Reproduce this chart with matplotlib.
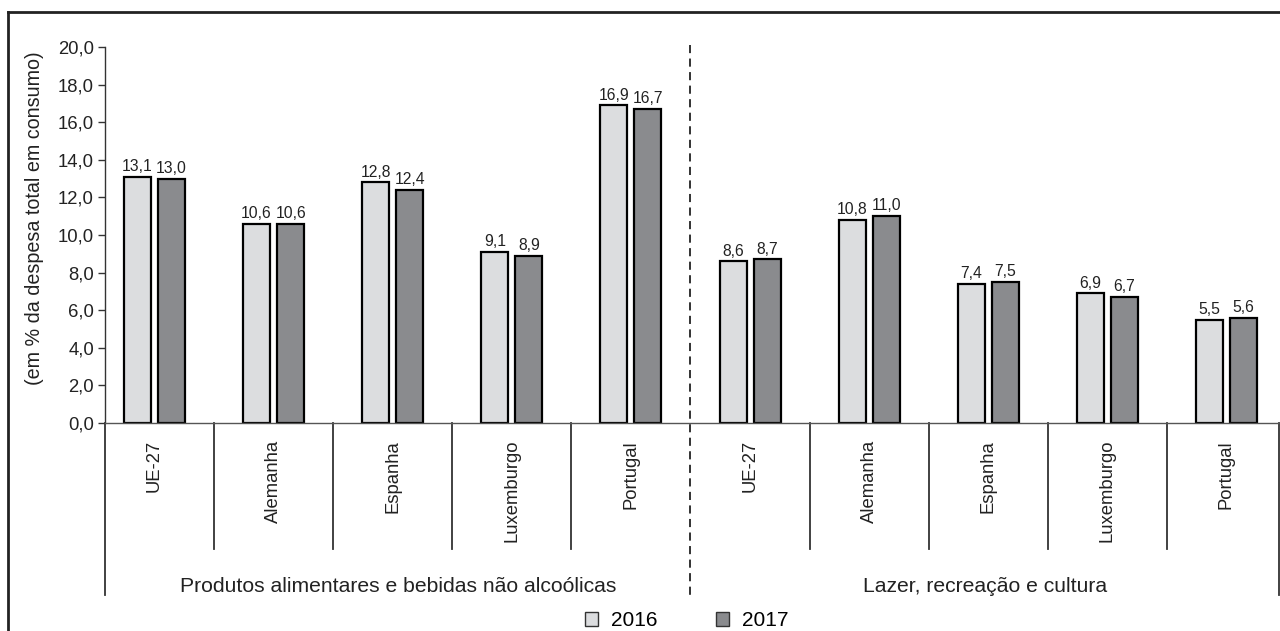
import matplotlib
matplotlib.use("Agg")
import matplotlib.pyplot as plt
from matplotlib.lines import Line2D
from matplotlib.patches import Patch
import numpy as np

plt.rcParams['font.family'] = ['Liberation Sans', 'DejaVu Sans']

groups = ["Produtos alimentares e bebidas não alcoólicas", "Lazer, recreação e cultura"]
countries = ["UE-27", "Alemanha", "Espanha", "Luxemburgo", "Portugal"]
values_2016 = [13.1, 10.6, 12.8, 9.1, 16.9, 8.6, 10.8, 7.4, 6.9, 5.5]
values_2017 = [13.0, 10.6, 12.4, 8.9, 16.7, 8.7, 11.0, 7.5, 6.7, 5.6]
series_names = ["2016", "2017"]
yticks = np.arange(0, 20.1, 2)

c2016 = "#dcdddf"
c2017 = "#8a8b8e"
ink = "#222222"

W, H = 1280, 631
fig = plt.figure(figsize=(W / 100, H / 100), dpi=100)
ax_l, ax_r, ax_b, ax_t = 105, 1279, 423, 47
ax = fig.add_axes([ax_l / W, 1 - ax_b / H, (ax_r - ax_l) / W, (ax_b - ax_t) / H])

n = len(values_2016)
x = np.arange(n)
cat_px = 119.1                      # width of one category slot in pixels
x0 = -0.5 + 10 / cat_px             # first slot starts slightly left of the value axis
x1 = x0 + (ax_r - ax_l) / cat_px

bw = 0.227
off = 0.143
b1 = ax.bar(x - off, values_2016, bw, color=c2016, edgecolor="black", linewidth=1.6)
b2 = ax.bar(x + off, values_2017, bw, color=c2017, edgecolor="black", linewidth=1.6)

fmt = lambda v: f"{v:.1f}".replace(".", ",")
for bars, vals in ((b1, values_2016), (b2, values_2017)):
    for r, v in zip(bars, vals):
        ax.annotate(fmt(v), (r.get_x() + r.get_width() / 2, v), xytext=(0, 2),
                    textcoords="offset points", ha="center", va="bottom",
                    fontsize=11.3, color=ink)

ax.set_xlim(x0, x1)
ax.set_ylim(0, 20)
ax.set_yticks(yticks)
ax.set_yticklabels([fmt(v) for v in yticks], fontsize=13.3, color=ink)
ax.tick_params(axis="y", direction="out", length=5, width=1, color="#333333", pad=3)
ax.set_xticks([])
for s in ("top", "right"):
    ax.spines[s].set_visible(False)
ax.spines["left"].set_color("#333333")
ax.spines["bottom"].set_color("#555555")
ax.spines["left"].set_linewidth(1)
ax.spines["bottom"].set_linewidth(1)

fig.text(35 / W, 1 - 218 / H, "(em % da despesa total em consumo)", rotation=90,
         ha="center", va="center", fontsize=14.2, color=ink)

# category labels and separators below the axis
trans = ax.get_xaxis_transform()
for i in range(n):
    ax.text(i, -0.045, countries[i % 5], rotation=90, ha="center", va="top",
            fontsize=13.3, color=ink, transform=trans)
short_y = -(549 - ax_b) / (ax_b - ax_t)
long_y = -(595 - ax_b) / (ax_b - ax_t)
for k in range(1, n):
    if k == 5:
        continue
    xs = k - 0.5
    ax.add_line(Line2D([xs, xs], [0, short_y], transform=trans, color="#333333",
                       lw=1.3, clip_on=False))
for xs in (x0, x1 - 0.004):
    ax.add_line(Line2D([xs, xs], [0, long_y], transform=trans, color="#333333",
                       lw=1.3, clip_on=False))

# dashed divider between the two groups
ax.add_line(Line2D([4.5, 4.5], [1.005, long_y], transform=trans, color=ink,
                   lw=1.3, ls=(0, (4.5, 3)), clip_on=False))

group_y = -(586 - ax_b) / (ax_b - ax_t)
ax.text((x0 + 4.5) / 2, group_y, groups[0], ha="center", va="center", fontsize=15.2,
        color=ink, transform=trans)
ax.text((4.5 + x1) / 2, group_y, groups[1], ha="center", va="center", fontsize=15.2,
        color=ink, transform=trans)

handles = [Patch(facecolor=c2016, edgecolor="#333333", linewidth=1),
           Patch(facecolor=c2017, edgecolor="#333333", linewidth=1)]
fig.legend(handles, series_names, loc="center", bbox_to_anchor=(686.5 / W, 1 - 621 / H),
           ncol=2, frameon=False, fontsize=15, handlelength=0.63, handleheight=0.63,
           columnspacing=2.8, handletextpad=0.62, borderpad=0, borderaxespad=0)

# outer frame
fig.add_artist(Line2D([8 / W, 8 / W], [0, 1 - 12 / H], transform=fig.transFigure,
                      color=ink, lw=2))
fig.add_artist(Line2D([8 / W, 1], [1 - 12 / H, 1 - 12 / H], transform=fig.transFigure,
                      color=ink, lw=2))

fig.savefig("out.png", dpi=100)
